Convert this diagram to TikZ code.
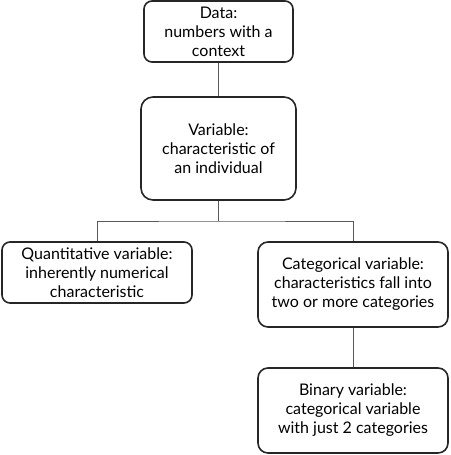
\documentclass[tikz,border=0pt]{standalone}
\usepackage{fontspec}
\setmainfont{Lato}
\begin{document}
\begin{tikzpicture}[x=1pt,y=1pt,
        box/.style={draw=black!85,line width=1.6pt,rounded corners=8pt,align=center,inner sep=0pt,font=\fontsize{16}{19}\selectfont},
        link/.style={draw=black!65,line width=0.9pt}]
        \useasboundingbox (0,0) rectangle (450,-455);
        \node[box,minimum width=149,minimum height=61] (data) at (218.5,-31.5) {Data:\\numbers with a\\context};
        \node[box,rounded corners=12pt,minimum width=155,minimum height=103] (var) at (218.5,-148.5) {Variable:\\characteristic of\\an individual};
        \node[box,minimum width=190,minimum height=61] (quant) at (97,-272.5) {Quantitative variable:\\inherently numerical\\characteristic};
        \node[box,rounded corners=10pt,minimum width=190,minimum height=85] (cat) at (353,-284.5) {Categorical variable:\\characteristics fall into\\two or more categories};
        \node[box,rounded corners=10pt,minimum width=190,minimum height=85] (bin) at (353,-410.5) {Binary variable:\\categorical variable\\with just 2 categories};
        \coordinate (split) at (218.5,-221);
        \draw[link] (data) -- (var);
        \draw[link] (var) -- (split);
        \draw[link] (quant.north) |- (split) -| (cat.north);
        \draw[link] (cat) -- (bin);
    \end{tikzpicture}
\end{document}
